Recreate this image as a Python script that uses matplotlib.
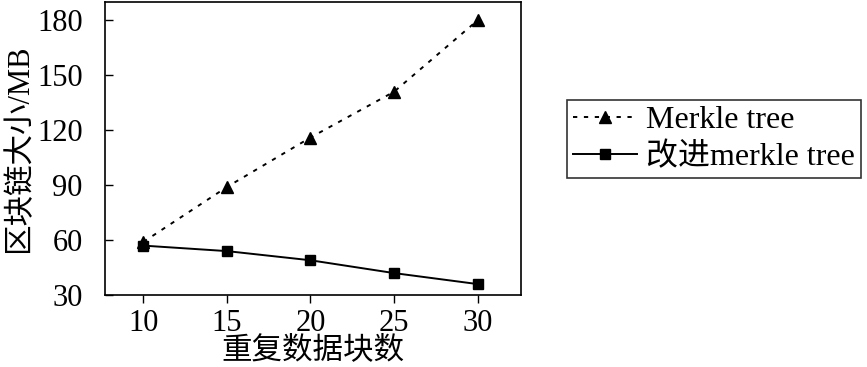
import matplotlib
matplotlib.use("Agg")
import matplotlib.pyplot as plt

x = [10, 15, 20, 25, 30]
merkle = [59, 89, 116, 141, 180]
improved = [57, 54, 49, 42, 36]
yticks = [30, 60, 90, 120, 150, 180]
label_a = "Merkle tree"
label_b = "改进merkle tree"
xlabel = "重复数据块数"
ylabel = "区块链大小/MB"

fam = ['Liberation Serif', 'Noto Sans CJK SC']
plt.rcParams['font.family'] = fam

fig = plt.figure(figsize=(8.67, 3.67), dpi=100)
ax = fig.add_axes([0.121, 0.196, 0.48, 0.7986])

ax.plot(x, merkle, color='black', lw=1.4, dashes=(2.2, 3.4), marker='^', ms=8,
        label=label_a)
ax.plot(x, improved, color='black', lw=1.4, ls='-', marker='s', ms=6.5,
        label=label_b)

ax.set_xlim(7.7, 32.6)
ax.set_ylim(30, 190)
ax.set_xticks(x)
ax.set_yticks(yticks)
ax.tick_params(axis='x', direction='out', length=6, width=1, labelsize=22, pad=4)
ax.tick_params(axis='y', direction='in', length=6, width=1, labelsize=22, pad=16)
for s in ax.spines.values():
    s.set_linewidth(1.2)

ax.set_xlabel(xlabel, fontsize=22, labelpad=-1)
ax.set_ylabel(ylabel, fontsize=22, labelpad=2)

leg = fig.legend(loc='center left', bbox_to_anchor=(567/867, 1-139/367),
                 bbox_transform=fig.transFigure, fontsize=23, frameon=True,
                 fancybox=False, edgecolor='black', handlelength=2.0,
                 handletextpad=0.3, borderpad=0.18, labelspacing=0.25,
                 borderaxespad=0)
leg.get_frame().set_linewidth(1.2)

fig.savefig("out.png", dpi=100)
